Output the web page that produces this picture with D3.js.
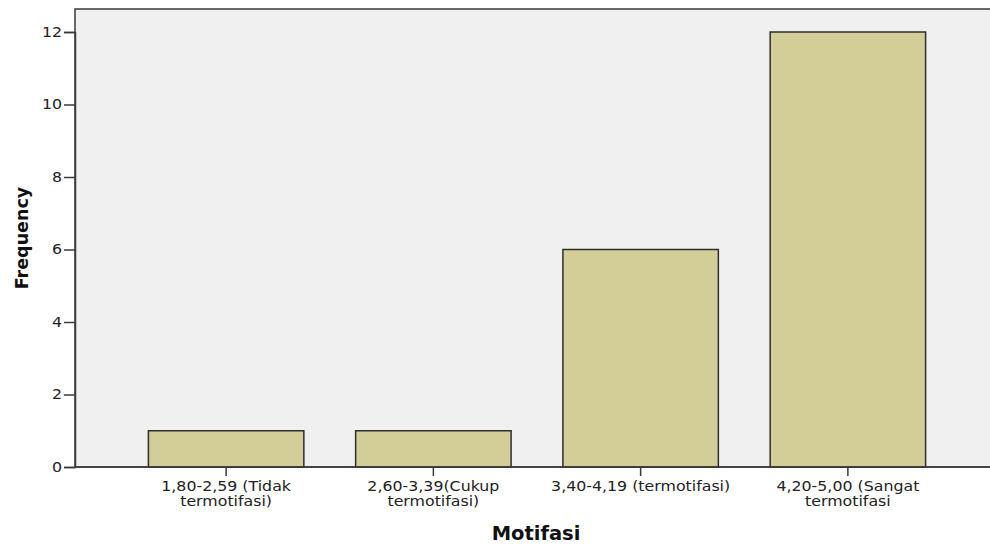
<!DOCTYPE html>
<html>
<head>
<meta charset="utf-8">
<script src="https://cdn.jsdelivr.net/npm/d3@7"></script>
<style>
  html, body { margin: 0; padding: 0; background: #ffffff; }
  svg { display: block; }
</style>
</head>
<body>
<svg id="chart" width="990" height="545"></svg>
<script>
// ---- data ----
const categories = [
  "1,80-2,59 (Tidak termotifasi)",
  "2,60-3,39(Cukup termotifasi)",
  "3,40-4,19 (termotifasi)",
  "4,20-5,00 (Sangat termotifasi"
];
const categoryLines = [
  ["1,80-2,59 (Tidak", "termotifasi)"],
  ["2,60-3,39(Cukup", "termotifasi)"],
  ["3,40-4,19 (termotifasi)"],
  ["4,20-5,00 (Sangat", "termotifasi"]
];
const frequencies = [1, 1, 6, 12];
const yTicks = [0, 2, 4, 6, 8, 10, 12];
const xTitle = "Motifasi";
const yTitle = "Frequency";

// ---- layout ----
const svg = d3.select("#chart");
const plotLeft = 75, plotTop = 9, plotBottom = 467, plotRight = 997;
const font = "'DejaVu Sans', Verdana, sans-serif";
const stretch = 1.13;

const x = d3.scaleBand()
  .domain(categories)
  .range([122.5, 951.5])
  .paddingInner(0.25)
  .paddingOuter(0.125);

const y = d3.scaleLinear()
  .domain([0, 12])
  .range([plotBottom, 32]);

// plot background
svg.append("rect")
  .attr("x", plotLeft).attr("y", plotTop)
  .attr("width", plotRight - plotLeft).attr("height", plotBottom - plotTop)
  .attr("fill", "#f0f0f0")
  .attr("stroke", "#3a3a3a")
  .attr("stroke-width", 1.5);

// bars
svg.append("g").selectAll("rect")
  .data(categories)
  .join("rect")
  .attr("x", d => x(d))
  .attr("y", (d, i) => y(frequencies[i]))
  .attr("width", x.bandwidth())
  .attr("height", (d, i) => y(0) - y(frequencies[i]))
  .attr("fill", "#d3cd97")
  .attr("stroke", "#2e2e2e")
  .attr("stroke-width", 1.5);

// y axis
const yAxis = d3.axisLeft(y).tickValues(yTicks).tickSize(11).tickPadding(2).tickFormat(d3.format("d"));
const gy = svg.append("g").attr("transform", `translate(${plotLeft},0)`).call(yAxis);
gy.select(".domain").attr("stroke", "#3a3a3a").attr("stroke-width", 1.5);
gy.selectAll(".tick line").attr("stroke", "#3a3a3a").attr("stroke-width", 1.5);
gy.selectAll(".tick text")
  .attr("font-family", font).attr("font-size", 14).attr("fill", "#222")
  .attr("transform", function() {
    const xx = +d3.select(this).attr("x");
    return `translate(${xx},0) scale(${stretch},1) translate(${-xx},0)`;
  });

// x axis
const xAxis = d3.axisBottom(x).tickSize(9).tickFormat("");
const gx = svg.append("g").attr("transform", `translate(0,${plotBottom})`).call(xAxis);
gx.select(".domain").remove();
gx.selectAll(".tick line").attr("stroke", "#3a3a3a").attr("stroke-width", 1.5);
svg.append("line")
  .attr("x1", plotLeft).attr("x2", plotRight)
  .attr("y1", plotBottom).attr("y2", plotBottom)
  .attr("stroke", "#3a3a3a").attr("stroke-width", 1.5);

// x tick labels (multi-line, slightly widened like the original rendering)
const labels = svg.append("g").selectAll("g")
  .data(categories)
  .join("g")
  .attr("transform", d => `translate(${x(d) + x.bandwidth() / 2},0) scale(${stretch},1)`);
labels.each(function(d, i) {
  const g = d3.select(this);
  categoryLines[i].forEach((line, k) => {
    g.append("text")
      .attr("x", 0)
      .attr("y", 491.5 + k * 15)
      .attr("text-anchor", "middle")
      .attr("font-family", font)
      .attr("font-size", 14)
      .attr("fill", "#222")
      .text(line);
  });
});

// axis titles
svg.append("text")
  .attr("x", (plotLeft + plotRight) / 2)
  .attr("y", 540)
  .attr("text-anchor", "middle")
  .attr("font-family", font)
  .attr("font-weight", "bold")
  .attr("font-size", 19.5)
  .attr("fill", "#111")
  .text(xTitle);

svg.append("text")
  .attr("transform", `translate(28,${(plotTop + plotBottom) / 2}) rotate(-90)`)
  .attr("text-anchor", "middle")
  .attr("font-family", font)
  .attr("font-weight", "bold")
  .attr("font-size", 17.5)
  .attr("fill", "#111")
  .text(yTitle);
</script>
</body>
</html>
